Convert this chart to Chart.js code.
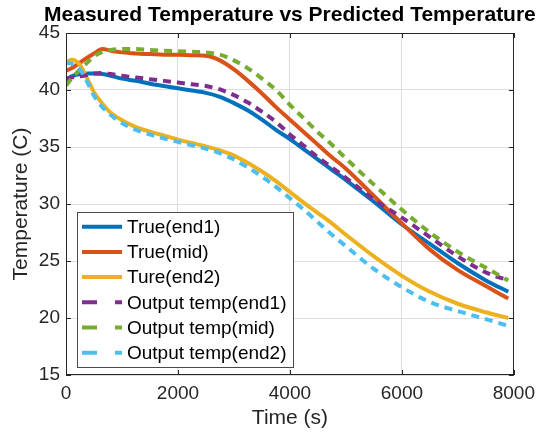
<!DOCTYPE html>
<html><head><meta charset="utf-8">
<script src="https://cdn.jsdelivr.net/npm/chart.js@4"></script>
<style>html,body{margin:0;padding:0;background:#fff}#wrap{width:542px;height:436px}</style>
</head><body><div id="wrap"><canvas id="c" width="542" height="436"></canvas></div>
<script>
const times    = [0,100,250,400,500,650,800,1000,1250,1500,1750,2000,2250,2500,2750,3000,3250,3500,3750,4000,4250,4500,4750,5000,5500,6000,6500,7000,7500,7900];
const trueEnd1 = [40.9,41.2,41.4,41.45,41.45,41.4,41.25,41.0,40.8,40.55,40.35,40.15,39.95,39.75,39.4,38.85,38.2,37.4,36.5,35.7,34.8,33.9,33.0,32.1,30.2,28.2,26.5,24.8,23.3,22.3];
const trueMid  = [41.7,41.9,42.4,42.9,43.2,43.6,43.45,43.3,43.2,43.15,43.1,43.1,43.05,43.0,42.6,41.8,40.8,39.7,38.5,37.4,36.3,35.2,34.1,33.1,30.7,28.3,26.0,24.2,22.8,21.7];
const tureEnd2 = [42.4,42.65,42.2,40.8,39.8,38.8,38.0,37.35,36.75,36.35,36.0,35.65,35.35,35.05,34.7,34.25,33.6,32.85,32.0,31.05,30.1,29.2,28.3,27.3,25.4,23.7,22.3,21.25,20.5,20.0];
const outEnd1  = [41.0,41.1,41.2,41.35,41.45,41.5,41.4,41.25,41.1,40.95,40.8,40.65,40.5,40.35,40.05,39.55,38.9,38.1,37.2,36.1,35.1,34.1,33.2,32.3,30.4,28.8,27.1,25.4,24.0,23.3];
const outMid   = [40.4,41.0,41.8,42.5,42.95,43.35,43.5,43.6,43.6,43.5,43.45,43.4,43.35,43.3,43.1,42.6,41.9,41.0,40.0,38.7,37.5,36.3,35.2,34.0,31.7,29.5,27.5,25.8,24.4,23.3];
const outEnd2  = [42.4,42.3,41.8,40.5,39.5,38.5,37.8,37.1,36.5,36.1,35.75,35.45,35.15,34.85,34.45,33.9,33.2,32.4,31.5,30.5,29.5,28.4,27.3,26.3,24.3,22.7,21.4,20.6,19.9,19.3];
const seriesLabels = ['True(end1)','True(mid)','Ture(end2)','Output temp(end1)','Output temp(mid)','Output temp(end2)'];
const xTicks = [0,2000,4000,6000,8000];
const yTicks = [15,20,25,30,35,40,45];
const titleText = 'Measured Temperature vs Predicted Temperature';
const xTitle = 'Time (s)';
const yTitle = 'Temperature (C)';

const FONT = '"Liberation Sans", Arial, Helvetica, sans-serif';
const colors = ['#0072BD','#D95319','#EDB120','#7E2F8E','#77AC30','#4DBEEE'];
const series = [trueEnd1, trueMid, tureEnd2, outEnd1, outMid, outEnd2];

const datasets = series.map((vals, i) => ({
  label: seriesLabels[i],
  data: times.map((t, j) => ({x: t, y: vals[j]})),
  borderColor: colors[i],
  backgroundColor: colors[i],
  borderWidth: 4,
  borderDash: i >= 3 ? [8, 6] : [],
  pointRadius: 0,
  fill: false,
  cubicInterpolationMode: 'monotone',
  order: 6 - i
}));

const decor = {
  id: 'decor',
  afterDraw(chart) {
    const ctx = chart.ctx, a = chart.chartArea;
    const xs = chart.scales.x, ys = chart.scales.y;
    ctx.save();
    ctx.strokeStyle = '#262626';
    ctx.lineWidth = 1;
    ctx.strokeRect(Math.round(a.left) + 0.5, Math.round(a.top) + 0.5, Math.round(a.right - a.left) - 1, Math.round(a.bottom - a.top) - 1);
    ctx.beginPath();
    xTicks.forEach(v => {
      const px = Math.round(xs.getPixelForValue(v)) + 0.5;
      ctx.moveTo(px, a.bottom); ctx.lineTo(px, a.bottom - 5);
      ctx.moveTo(px, a.top); ctx.lineTo(px, a.top + 5);
    });
    yTicks.forEach(v => {
      const py = Math.round(ys.getPixelForValue(v)) + 0.5;
      ctx.moveTo(a.left, py); ctx.lineTo(a.left + 5, py);
      ctx.moveTo(a.right, py); ctx.lineTo(a.right - 5, py);
    });
    ctx.stroke();
    ctx.fillStyle = '#000';
    ctx.font = 'bold 21px ' + FONT;
    ctx.textAlign = 'center';
    ctx.textBaseline = 'middle';
    ctx.fillText(titleText, (a.left + a.right) / 2, 15);
    ctx.fillStyle = '#262626';
    ctx.font = '21px ' + FONT;
    ctx.fillText(xTitle, (a.left + a.right) / 2, 418);
    ctx.save();
    ctx.translate(21, (a.top + a.bottom) / 2);
    ctx.rotate(-Math.PI / 2);
    ctx.fillText(yTitle, 0, 0);
    ctx.restore();
    const lx = 77, ly = 212, lw = 216, lh = 155;
    ctx.fillStyle = '#fff';
    ctx.fillRect(lx, ly, lw, lh);
    ctx.strokeStyle = '#4a4a4a';
    ctx.lineWidth = 1;
    ctx.strokeRect(lx + 0.5, ly + 0.5, lw, lh);
    ctx.font = '19px ' + FONT;
    ctx.textAlign = 'left';
    ctx.textBaseline = 'middle';
    chart.data.datasets.forEach((ds, i) => {
      const cy = 226.7 + i * 25.2;
      ctx.beginPath();
      ctx.strokeStyle = ds.borderColor;
      ctx.lineWidth = 4;
      ctx.setLineDash(ds.borderDash.length ? [15, 18] : []);
      ctx.moveTo(82, cy); ctx.lineTo(122, cy);
      ctx.stroke();
      ctx.setLineDash([]);
      ctx.fillStyle = '#000';
      ctx.fillText(ds.label, 127, cy + 1);
    });
    ctx.restore();
  }
};

new Chart(document.getElementById('c'), {
  type: 'line',
  data: { datasets },
  options: {
    responsive: false,
    animation: false,
    devicePixelRatio: 1,
    layout: { padding: { top: 33, right: 24, left: 0, bottom: 0 } },
    plugins: { legend: { display: false }, tooltip: { enabled: false }, title: { display: false } },
    scales: {
      x: {
        type: 'linear', min: 0, max: 8000,
        afterBuildTicks: s => { s.ticks = xTicks.map(v => ({value: v})); },
        afterFit: s => { s.height = 61; },
        ticks: { font: { size: 19, family: FONT }, color: '#262626', padding: 7, maxRotation: 0, autoSkip: false, callback: v => String(v) },
        grid: { color: '#dedede', drawTicks: false, lineWidth: 1 },
        border: { display: false }
      },
      y: {
        type: 'linear', min: 15, max: 45,
        afterBuildTicks: s => { s.ticks = yTicks.map(v => ({value: v})); },
        afterFit: s => { s.width = 66; },
        ticks: { font: { size: 19, family: FONT }, color: '#262626', padding: 6, autoSkip: false, callback: v => String(v) },
        grid: { color: '#dedede', drawTicks: false, lineWidth: 1 },
        border: { display: false }
      }
    }
  },
  plugins: [decor]
});
</script>
</body></html>
